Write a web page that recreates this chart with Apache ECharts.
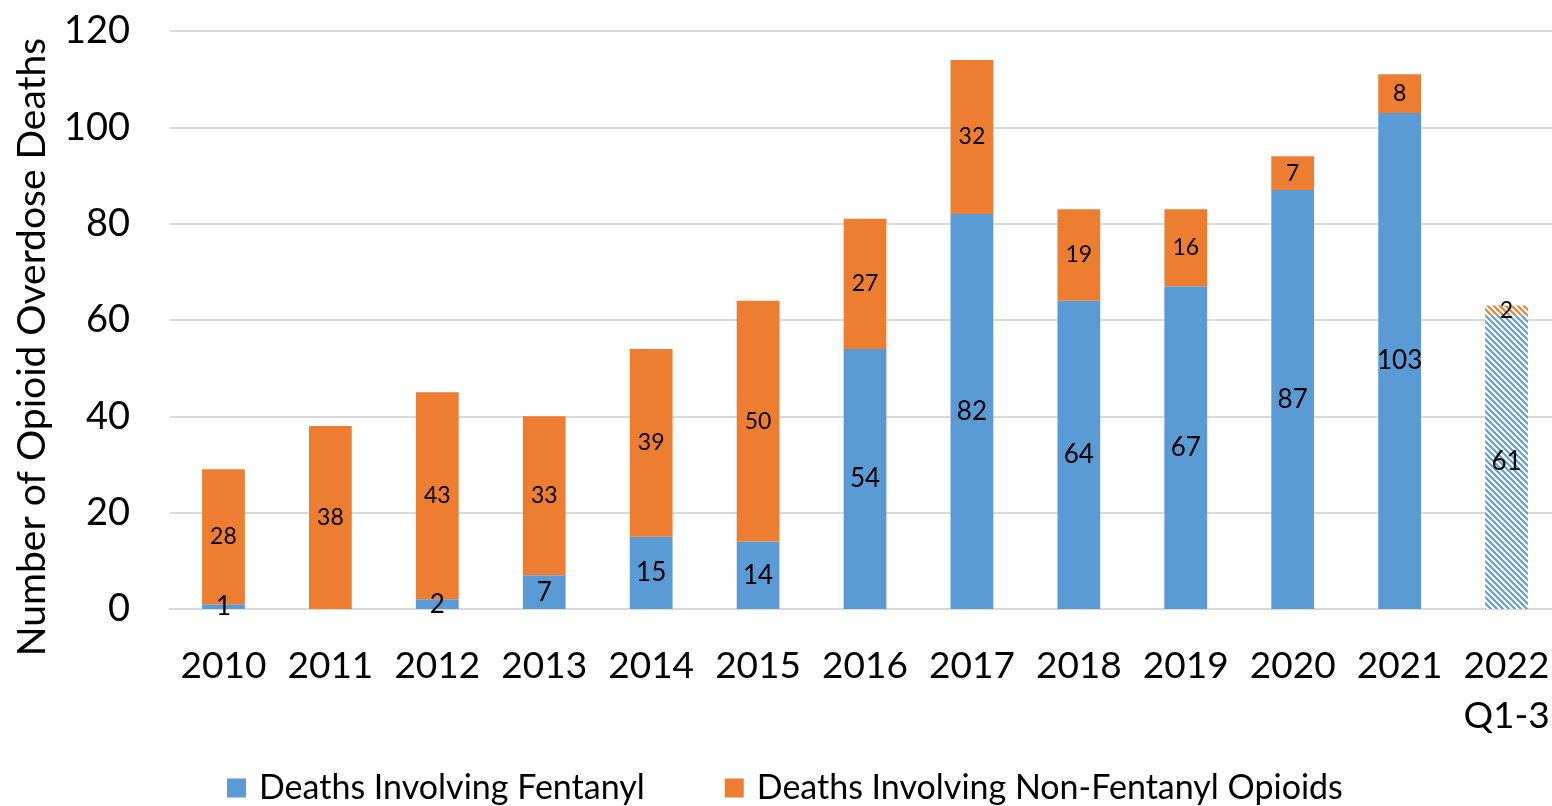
<!DOCTYPE html>
<html>
<head>
<meta charset="utf-8">
<script src="https://cdn.jsdelivr.net/npm/echarts@6/dist/echarts.min.js"></script>
<style>
  html, body { margin: 0; padding: 0; background: #fff; overflow: hidden; }
  #chart { width: 1560px; height: 806px; }
</style>
</head>
<body>
<div id="chart"></div>
<script>
const years = ['2010', '2011', '2012', '2013', '2014', '2015', '2016', '2017', '2018', '2019', '2020', '2021', '2022\nQ1-3']
const fentanyl = [1, 0, 2, 7, 15, 14, 54, 82, 64, 67, 87, 103, 61]
const nonFentanyl = [28, 38, 43, 33, 39, 50, 27, 32, 19, 16, 7, 8, 2]
const yTicks = [0, 20, 40, 60, 80, 100, 120]

const BLUE = '#5B9BD5'
const ORANGE = '#ED7D31'
const FONT = 'Lato'

// diagonal hatch for the partial-year bar
function hatch(color) {
  const c = document.createElement('canvas')
  c.width = 6
  c.height = 6
  const ctx = c.getContext('2d')
  ctx.fillStyle = '#fff'
  ctx.fillRect(0, 0, 6, 6)
  ctx.strokeStyle = color
  ctx.lineWidth = 2
  ctx.beginPath()
  ctx.moveTo(-3, -3); ctx.lineTo(9, 9)
  ctx.moveTo(-3, 3); ctx.lineTo(3, 9)
  ctx.moveTo(3, -3); ctx.lineTo(9, 3)
  ctx.stroke()
  return { image: c, repeat: 'repeat' }
}

function withHatch(values, color) {
  return values.map((v, i) => i === values.length - 1
    ? { value: v, itemStyle: { color: hatch(color) } }
    : v)
}

const chart = echarts.init(document.getElementById('chart'))
chart.setOption({
  animation: false,
  textStyle: { fontFamily: FONT },
  // plot runs a little past the right edge of the window, as in the original
  grid: { left: 170, right: 0, top: 31, bottom: 197 },
  legend: {
    top: 766,
    left: 222,
    itemWidth: 19,
    itemHeight: 19,
    itemGap: 80,
    icon: 'rect',
    textStyle: { fontSize: 34, color: '#000', fontFamily: FONT, padding: [0, 0, 0, 8] }
  },
  xAxis: {
    type: 'category',
    data: years,
    axisTick: { show: false },
    axisLine: { lineStyle: { color: '#d9d9d9', width: 2 } },
    axisLabel: { interval: 0, color: '#000', fontSize: 37, margin: 32, lineHeight: 50, fontFamily: FONT }
  },
  yAxis: {
    type: 'value',
    min: yTicks[0],
    max: yTicks[yTicks.length - 1],
    interval: 20,
    name: 'Number of Opioid Overdose Deaths',
    nameLocation: 'middle',
    nameGap: 118,
    nameTextStyle: { fontSize: 39, color: '#000', fontFamily: FONT, padding: [0, 54, 0, 0] },
    axisLabel: { color: '#000', fontSize: 38, margin: 40, fontFamily: FONT },
    splitLine: { lineStyle: { color: '#d9d9d9', width: 2 } }
  },
  series: [{
    name: 'Deaths Involving Fentanyl',
    type: 'bar',
    stack: 'deaths',
    barWidth: '40%',
    color: BLUE,
    data: withHatch(fentanyl, BLUE),
    label: {
      show: true,
      position: 'inside',
      color: '#000',
      fontSize: 26,
      fontFamily: FONT,
      formatter: p => p.value ? p.value : ''
    }
  }, {
    name: 'Deaths Involving Non-Fentanyl Opioids',
    type: 'bar',
    stack: 'deaths',
    barWidth: '40%',
    color: ORANGE,
    data: withHatch(nonFentanyl, ORANGE),
    label: {
      show: true,
      position: 'inside',
      color: '#000',
      fontSize: 23,
      fontFamily: FONT,
      formatter: p => p.value ? p.value : ''
    }
  }]
})
</script>
</body>
</html>
